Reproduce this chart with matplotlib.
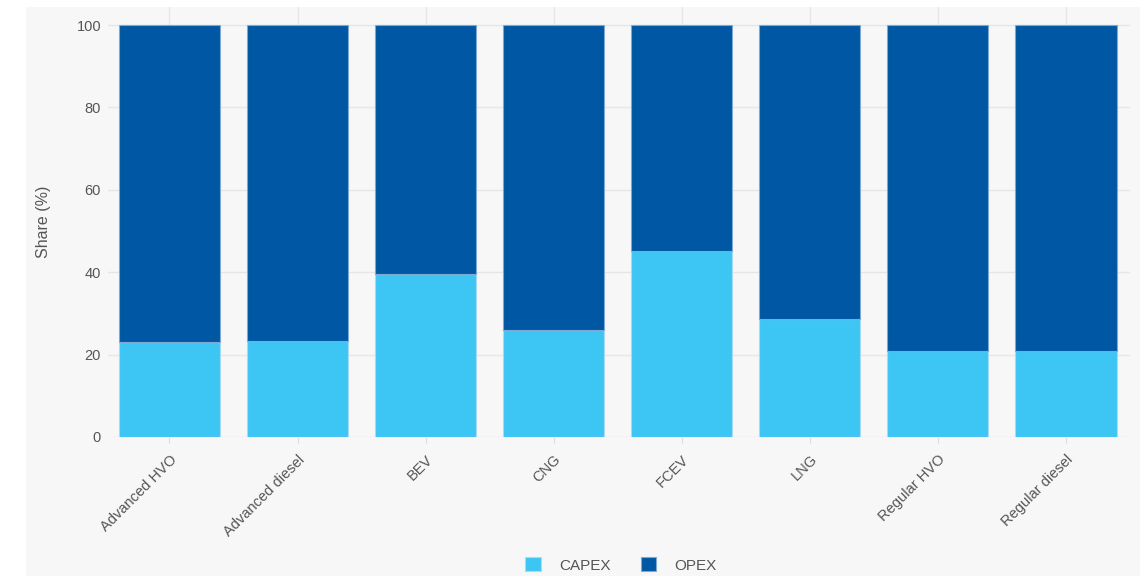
import matplotlib.pyplot as plt
from matplotlib.patches import Rectangle

plt.rcParams['font.family'] = ['Liberation Sans', 'DejaVu Sans']

# share of total cost, %
categories = ['Advanced HVO', 'Advanced diesel', 'BEV', 'CNG', 'FCEV',
              'LNG', 'Regular HVO', 'Regular diesel']
capex = [23.1, 23.4, 39.6, 26.0, 45.1, 28.7, 20.9, 21.0]
opex = [100 - c for c in capex]

capex_color = '#3dc5f3'
opex_color = '#0057a3'
text_color = '#555555'

fig = plt.figure(figsize=(11.48, 5.76), dpi=100)
# grey panel behind chart
fig.patches.append(Rectangle((26 / 1148, 0), (1140 - 26) / 1148, 569 / 576,
                             transform=fig.transFigure, facecolor='#f7f7f7',
                             edgecolor='none', zorder=-10))

ax = fig.add_axes([108 / 1148, (576 - 437) / 576, (1130 - 108) / 1148, 430 / 576])
ax.set_facecolor('none')

x = range(len(categories))
ax.bar(x, capex, width=0.79, color=capex_color, edgecolor='#a8dcf5',
       linewidth=0.8, label='CAPEX', zorder=3)
ax.bar(x, opex, width=0.79, bottom=capex, color=opex_color,
       edgecolor='#7fa9d3', linewidth=0.8, label='OPEX', zorder=3)

ax.set_xlim(-0.48, 7.5)
ax.set_ylim(0, 104.4)
ax.set_yticks([0, 20, 40, 60, 80, 100])
ax.set_xticks(list(x))
ax.set_xticklabels(categories, rotation=45, ha='right', rotation_mode='anchor',
                   fontsize=10.5, color=text_color)
ax.tick_params(axis='y', length=0, labelsize=10.5, labelcolor=text_color, pad=5)
ax.tick_params(axis='x', length=4, color='#dddddd', pad=7)

ax.grid(True, color='#e6e6e6', linewidth=1, zorder=0)
for s in ax.spines.values():
    s.set_visible(False)

ax.set_ylabel('Share (%)', fontsize=11.5, color=text_color, labelpad=18)

fig.legend(loc='center', bbox_to_anchor=(0.541, 11 / 576), ncol=2,
           frameon=False, fontsize=11, handlelength=1.0, handleheight=1.0,
           columnspacing=2.0, handletextpad=1.2, labelcolor=text_color)

plt.savefig('out.png', dpi=100)
